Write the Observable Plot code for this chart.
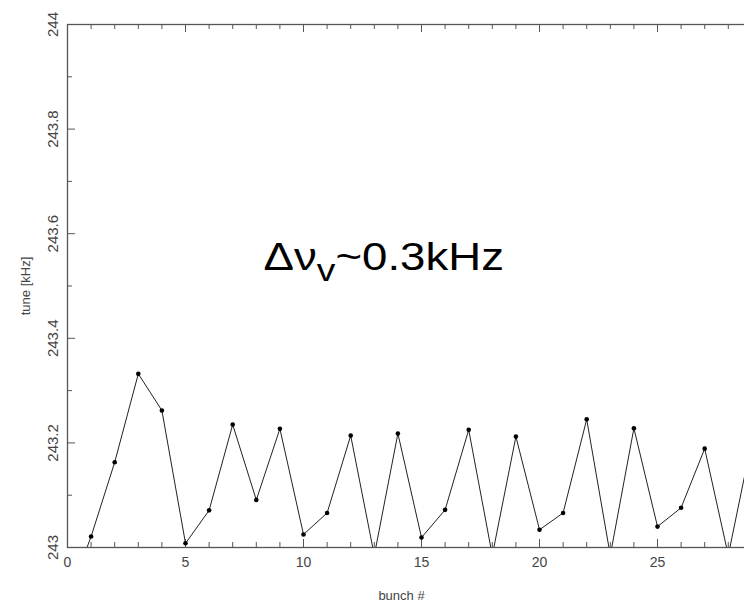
<!DOCTYPE html>
<html>
<head>
<meta charset="utf-8">
<script src="https://cdn.jsdelivr.net/npm/d3@7"></script>
<script src="https://cdn.jsdelivr.net/npm/@observablehq/plot@0.6"></script>
<style>
  html, body { margin: 0; padding: 0; background: #fff; overflow: hidden; }
  #chart { width: 744px; height: 604px; overflow: hidden; }
  #chart svg { max-width: none !important; width: 810px !important; height: 604px !important; }
</style>
</head>
<body>
<div id="chart"></div>
<script>
// ---- data ----
const bunches = [0,1,2,3,4,5,6,7,8,9,10,11,12,13,14,15,16,17,18,19,20,21,22,23,24,25,26,27,28,29];
const tune = [242.90,243.021,243.163,243.332,243.262,243.008,243.071,243.235,243.091,243.227,
              243.025,243.066,243.214,242.985,243.218,243.019,243.072,243.225,242.985,243.212,
              243.034,243.066,243.245,242.985,243.228,243.040,243.076,243.189,242.985,243.205];
const xMajor = [0,5,10,15,20,25,30];
const xLabelVals = [0,5,10,15,20,25];
const xMinor = d3.range(0, 31);
const yMajor = [243, 243.2, 243.4, 243.6, 243.8, 244];
const yMinor = [243.1, 243.3, 243.5, 243.7, 243.9];
const yLabels = ["243", "243.2", "243.4", "243.6", "243.8", "244"];
const xTitle = "bunch #";
const yTitle = "tune [kHz]";
const note = {x: 13.4, y: 243.53, text: "Δν~0.3kHz"};

const data = bunches.map((b, i) => ({bunch: b, tune: tune[i]}));

const W = 810, H = 604, mL = 67, mR = 35, mT = 24, mB = 57;
const fw = W - mL - mR, fh = H - mT - mB;
const axisColor = "#555";
const labelFont = "Liberation Sans, Arial, sans-serif";

const chart = Plot.plot({
  width: W, height: H,
  marginLeft: mL, marginRight: mR, marginTop: mT, marginBottom: mB,
  style: {background: "#fff", fontFamily: labelFont, maxWidth: "none"},
  x: {domain: [0, 30], axis: null},
  y: {domain: [243, 244], axis: null},
  marks: [
    Plot.frame({stroke: axisColor, strokeWidth: 1.3}),
    // bottom ticks
    Plot.tickX(xMinor, {x: d => d, stroke: axisColor, insetTop: fh - 5}),
    Plot.tickX(xMajor, {x: d => d, stroke: axisColor, insetTop: fh - 8}),
    // top ticks
    Plot.tickX(xMinor, {x: d => d, stroke: axisColor, insetBottom: fh - 5}),
    Plot.tickX(xMajor, {x: d => d, stroke: axisColor, insetBottom: fh - 8}),
    // left ticks
    Plot.tickY(yMinor, {y: d => d, stroke: axisColor, insetRight: fw - 5}),
    Plot.tickY(yMajor, {y: d => d, stroke: axisColor, insetRight: fw - 8}),
    // x tick labels
    Plot.text(xLabelVals, {x: d => d, frameAnchor: "bottom", dy: 15, text: d => String(d),
      fontSize: 14, fill: "#444", lineAnchor: "middle"}),
    // y tick labels (rotated)
    Plot.text(yMajor, {y: d => d, frameAnchor: "left", dx: -10, rotate: -90,
      text: (d, i) => yLabels[i], fontSize: 15, fill: "#444", lineAnchor: "bottom", textAnchor: "middle"}),
    // axis titles
    Plot.text([xTitle], {frameAnchor: "bottom", dx: -20, dy: 48, text: d => d,
      fontSize: 13, fill: "#444", lineAnchor: "middle"}),
    Plot.text([yTitle], {frameAnchor: "left", dx: -42, rotate: -90, text: d => d,
      fontSize: 13, fill: "#444", lineAnchor: "middle", textAnchor: "middle"}),
    // data
    Plot.line(data, {x: "bunch", y: "tune", stroke: "#222", strokeWidth: 1, clip: true}),
    Plot.dot(data, {x: "bunch", y: "tune", r: 2.3, fill: "#000", stroke: "none", clip: true}),
    // annotation
    Plot.text([note], {x: "x", y: "y", text: "text", fontSize: 38, fill: "#000",
      lineAnchor: "bottom", textAnchor: "middle", className: "note"})
  ]
});

document.getElementById("chart").appendChild(chart);

// subscript + horizontal stretch for the annotation
const t = chart.querySelector(".note text");
if (t) {
  const tr = t.getAttribute("transform") || "";
  t.setAttribute("transform", tr + " scale(1.2,1)");
  t.textContent = "";
  const ns = "http://www.w3.org/2000/svg";
  const a = document.createElementNS(ns, "tspan"); a.textContent = "Δν";
  const b = document.createElementNS(ns, "tspan"); b.textContent = "v";
  b.setAttribute("dy", "11"); b.setAttribute("font-size", "31");
  const c = document.createElementNS(ns, "tspan"); c.textContent = "~0.3kHz";
  c.setAttribute("dy", "-11");
  t.append(a, b, c);
}
</script>
</body>
</html>
